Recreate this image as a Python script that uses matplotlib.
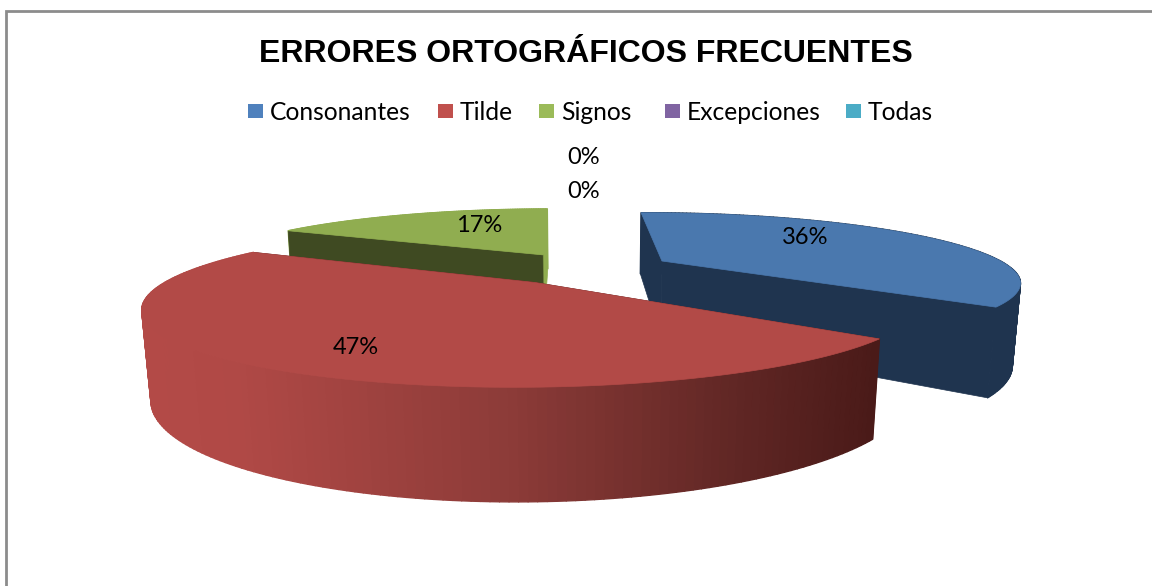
import numpy as np
import matplotlib
matplotlib.use("Agg")
import matplotlib.pyplot as plt
from matplotlib.collections import PolyCollection
from matplotlib.colors import LinearSegmentedColormap
from matplotlib.patches import Rectangle, Polygon

categorias = ["Consonantes", "Tilde", "Signos", "Excepciones", "Todas"]
porcentajes = [36, 47, 17, 0, 0]
colores_leyenda = ["#4F81BD", "#C0504D", "#9BBB59", "#8064A2", "#4BACC6"]
colores_tapa = ["#4A78AE", "#B24A47", "#90AD50"]
colores_lado = ["#1F344F", "#4A1A18", "#3F4A22"]
titulo = "ERRORES ORTOGRÁFICOS FRECUENTES"

# camara de la torta 3D (en pixeles)
CX, CY = 586, 268
F = 349
Q = 0.187      # inclinacion del plano
KZ = 0.28      # perspectiva en profundidad
KH = 0.018     # perspectiva en altura
ALTO = 80      # grosor de la torta
EXPL = 0.25    # separacion de las porciones
GIRO = -1.0    # angulo de inicio, en grados


def proyectar(X, Z, abajo=False):
    X = np.asarray(X, dtype=float)
    Z = np.asarray(Z, dtype=float)
    h = 1 if abajo else 0
    w = 1 + KZ * Z + KH * h
    return np.column_stack([CX + F * X / w, CY + (-F * Q * Z + ALTO * h) / w])


fig = plt.figure(figsize=(11.52, 5.86), dpi=100)
ax = fig.add_axes([0, 0, 1, 1])
ax.set_xlim(0, 1152)
ax.set_ylim(586, 0)
ax.axis("off")

# borde gris del grafico (solo arriba e izquierda)
ax.plot([5.5, 5.5, 1152], [586, 11, 11], color="#8C8C8C", lw=2.0, solid_joinstyle="miter")

mapa_rojo = LinearSegmentedColormap.from_list(
    "rojo", [(0, "#B34A47"), (0.12, "#B04946"), (0.5, "#8C3B38"), (0.8, "#612725"), (1, "#4A1A18")])

# angulos de cada porcion, sentido horario desde atras
limites = GIRO + 360 * np.cumsum([0] + porcentajes) / sum(porcentajes)
porciones = []
for i in range(3):
    a0, a1 = np.radians(limites[i]), np.radians(limites[i + 1])
    medio = (a0 + a1) / 2
    ox, oz = EXPL * np.sin(medio), EXPL * np.cos(medio)
    t = np.linspace(a0, a1, 160)
    porciones.append((i, t, ox, oz))

# orden de pintado: Signos (atras), Consonantes, Tilde (adelante)
for i, t, ox, oz in [porciones[2], porciones[0], porciones[1]]:
    bx, bz = ox + np.sin(t), oz + np.cos(t)
    arriba = proyectar(bx, bz)
    abajo = proyectar(bx, bz, abajo=True)
    c_arr = proyectar([ox], [oz])[0]
    c_aba = proyectar([ox], [oz], abajo=True)[0]

    cara_ini = [c_arr, arriba[0], abajo[0], c_aba]
    cara_fin = [c_arr, arriba[-1], abajo[-1], c_aba]
    color_fin = colores_tapa[2] if i == 2 else colores_lado[i]

    # borde curvo en tiras para poder sombrearlo
    tiras = [[arriba[j], arriba[j + 1], abajo[j + 1], abajo[j]] for j in range(len(t) - 1)]
    if i == 1:
        xs = (arriba[:-1, 0] + arriba[1:, 0]) / 2
        cols = mapa_rojo((xs - 145) / (878 - 145))
    else:
        cols = color_fin
    borde = PolyCollection(tiras, facecolors=cols, edgecolors=cols, linewidths=1.0)

    # Signos se ve desde adelante: su borde curvo va detras de las caras
    if i == 2:
        ax.add_collection(borde)
    ax.add_patch(Polygon(cara_fin, closed=True, fc=color_fin, ec=color_fin, lw=0.5))
    ax.add_patch(Polygon(cara_ini, closed=True, fc=colores_lado[i], ec=colores_lado[i], lw=0.5))
    if i != 2:
        ax.add_collection(borde)

    # tapa
    tapa = np.vstack([c_arr, arriba])
    ax.add_patch(Polygon(tapa, closed=True, fc=colores_tapa[i], ec=colores_tapa[i], lw=0.5))

# etiquetas de porcentaje
pos_etiquetas = [(805, 238), (356, 348), (479, 225), (584, 191), (584, 157)]
for valor, (x, y) in zip(porcentajes, pos_etiquetas):
    ax.text(x, y, f"{valor}%", family="Lato", fontsize=17, color="black", ha="center", va="center")

# titulo
ax.text(586, 54, titulo, family="Liberation Sans", fontweight="bold", fontsize=23,
        color="black", ha="center", va="center")

# leyenda
pos_cuadro = [248, 438, 539, 665, 846]
for nombre, color, x in zip(categorias, colores_leyenda, pos_cuadro):
    ax.add_patch(Rectangle((x, 104), 15, 14, fc=color, ec="none"))
    ax.text(x + 22, 112, nombre, family="Lato", fontsize=17.7, color="black", ha="left", va="center")

fig.savefig("out.png", dpi=100)
